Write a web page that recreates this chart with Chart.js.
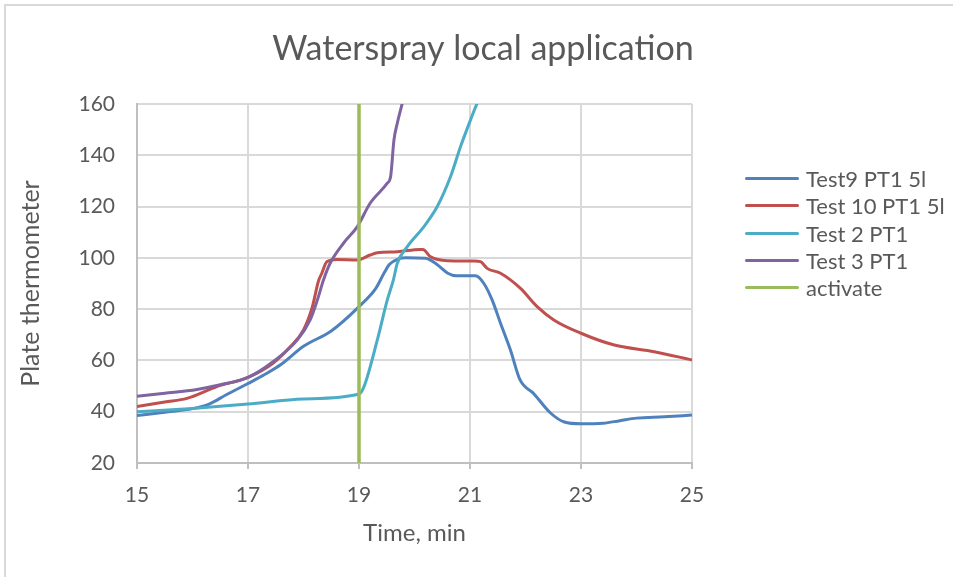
<!DOCTYPE html>
<html>
<head>
<meta charset="utf-8">
<script src="https://cdn.jsdelivr.net/npm/chart.js@4.4.1/dist/chart.umd.min.js"></script>
<style>
  html, body { margin: 0; padding: 0; background: #fff; }
  #wrap { position: relative; width: 953px; height: 577px; overflow: hidden; }
  #c { position: absolute; left: 0; top: 0; }
  #frame { position: absolute; left: 4px; top: 4px; width: 1000px; height: 1000px; border: 2px solid #d9d9d9; pointer-events: none; }
  #legend { position: absolute; left: 745px; top: 165px; font-family: Lato, "Open Sans", sans-serif; font-size: 22px; color: #595959; }
  .row { height: 27.3px; display: flex; align-items: center; white-space: nowrap; }
  .sw { width: 54px; height: 3px; margin-right: 7px; border-radius: 2px; }
</style>
</head>
<body>
<div id="wrap">
  <canvas id="c" width="953" height="577"></canvas>
  <div id="frame"></div>
  <div id="legend"></div>
</div>
<script>
// ---- data ----
const chartTitle = "Waterspray local application";
const xAxisTitle = "Time, min";
const yAxisTitle = "Plate thermometer";
const xTicks = [15, 17, 19, 21, 23, 25];
const yTicks = [20, 40, 60, 80, 100, 120, 140, 160];

const seriesNames = ["Test9 PT1 5l", "Test 10 PT1 5l", "Test 2 PT1", "Test 3 PT1", "activate"];
const seriesColors = ["#4F81BD", "#C0504D", "#4BACC6", "#8064A2", "#9BBB59"];

const test9Time = [15, 15.5, 16, 16.3, 16.6, 17, 17.3, 17.6, 18, 18.5, 19, 19.3, 19.45, 19.55, 19.7, 19.85, 20.2, 20.4, 20.6, 20.75, 21.1, 21.25, 21.4, 21.55, 21.73, 21.9, 22.15, 22.45, 22.7, 23, 23.4, 23.7, 24, 24.5, 25];
const test9Temp = [38.5, 39.8, 41.2, 43, 46.5, 51, 54.5, 58.5, 65.5, 71.5, 81, 88, 94, 97.5, 99.5, 100, 99.8, 97.5, 94, 93, 93, 90, 83.5, 74.5, 64, 52.5, 47, 39.5, 36, 35.3, 35.5, 36.5, 37.5, 38, 38.7];

const test10Time = [15, 15.5, 15.9, 16.44, 17, 17.45, 17.76, 18, 18.16, 18.27, 18.33, 18.42, 18.6, 18.97, 19.2, 19.33, 19.69, 20.1, 20.15, 20.29, 20.59, 21.07, 21.19, 21.31, 21.55, 21.91, 22.21, 22.51, 23, 23.6, 24.32, 25];
const test10Temp = [42, 43.8, 45.2, 49.8, 53.4, 58.9, 65.3, 71.9, 81, 91, 94, 98.5, 99.4, 99.2, 101.1, 102, 102.4, 103.3, 103.3, 100.4, 98.9, 98.8, 98.5, 95.9, 94, 88.1, 81, 75.8, 70.6, 66, 63.4, 60.2];

const test2Time = [15, 16, 17, 18, 19, 19.09, 19.33, 19.51, 19.62, 19.69, 19.87, 20.17, 20.41, 20.65, 20.83, 21.01, 21.13, 21.2];
const test2Temp = [40, 41.3, 43, 45, 46.9, 49.8, 68, 83.6, 91.4, 97.9, 104.4, 112.2, 120, 131.7, 143.4, 153.8, 160.3, 163];

const test3Time = [15, 15.5, 16.08, 16.5, 17, 17.45, 17.89, 18.12, 18.25, 18.36, 18.48, 18.72, 18.97, 19.2, 19.51, 19.57, 19.63, 19.69, 19.78, 19.8];
const test3Temp = [46, 47.2, 48.7, 50.5, 53.4, 59.5, 68, 75.8, 83.6, 91.4, 97.9, 105.7, 112.2, 121.3, 129.1, 131.7, 146, 152.5, 160.3, 162];

const activateTime = [19, 19];
const activateTemp = [20, 160];

// ---- build ----
const FONT = "Lato, 'Open Sans', sans-serif";
const TXT = "#595959";
function pts(xs, ys) { return xs.map((x, i) => ({ x: x, y: ys[i] })); }
const allSeries = [
  pts(test9Time, test9Temp),
  pts(test10Time, test10Temp),
  pts(test2Time, test2Temp),
  pts(test3Time, test3Temp),
  pts(activateTime, activateTemp)
];

const datasets = allSeries.map((d, i) => ({
  label: seriesNames[i],
  data: d,
  borderColor: seriesColors[i],
  backgroundColor: seriesColors[i],
  borderWidth: i === 4 ? 3.5 : 3,
  pointRadius: 0,
  tension: 0,
  cubicInterpolationMode: i === 4 ? 'default' : 'monotone',
  fill: false,
  order: 5 - i
}));

new Chart(document.getElementById('c'), {
  type: 'line',
  data: { datasets: datasets },
  options: {
    responsive: false,
    animation: false,
    layout: { padding: { left: 13, right: 0, top: 0, bottom: 0 } },
    plugins: {
      legend: { display: false },
      tooltip: { enabled: false },
      title: {
        display: true,
        text: chartTitle,
        color: TXT,
        font: { family: FONT, size: 34, weight: 'normal' },
        padding: { top: 28.6, bottom: 34.6 }
      }
    },
    scales: {
      x: {
        type: 'linear',
        min: xTicks[0], max: xTicks[xTicks.length - 1],
        afterBuildTicks: s => { s.ticks = xTicks.map(v => ({ value: v })); },
        afterFit: s => { s.height = 114; },
        ticks: { color: TXT, font: { family: FONT, size: 21 }, padding: 14, maxRotation: 0 },
        grid: { color: '#d9d9d9', lineWidth: 2, tickLength: 6, tickColor: '#bfbfbf' },
        border: { color: '#bfbfbf', width: 2 },
        title: { display: true, text: xAxisTitle, color: TXT, font: { family: FONT, size: 24 }, padding: 29 }
      },
      y: {
        type: 'linear',
        min: yTicks[0], max: yTicks[yTicks.length - 1],
        afterBuildTicks: s => { s.ticks = yTicks.map(v => ({ value: v })); },
        afterFit: s => { s.width = 124; },
        ticks: { color: TXT, font: { family: FONT, size: 21 }, padding: 22 },
        grid: { color: '#d9d9d9', lineWidth: 2, drawTicks: false },
        border: { color: '#bfbfbf', width: 2 },
        title: { display: true, text: yAxisTitle, color: TXT, font: { family: FONT, size: 25 }, padding: 3 }
      },
      yRightSpace: {
        type: 'linear', position: 'right', min: 0, max: 1,
        afterFit: s => { s.width = 261; },
        ticks: { display: false },
        grid: { display: false },
        border: { display: false }
      }
    }
  }
});

// HTML legend built from the series arrays
const lg = document.getElementById('legend');
seriesNames.forEach((n, i) => {
  const r = document.createElement('div'); r.className = 'row';
  const s = document.createElement('div'); s.className = 'sw'; s.style.background = seriesColors[i];
  const t = document.createElement('span'); t.textContent = n;
  r.appendChild(s); r.appendChild(t); lg.appendChild(r);
});
</script>
</body>
</html>
